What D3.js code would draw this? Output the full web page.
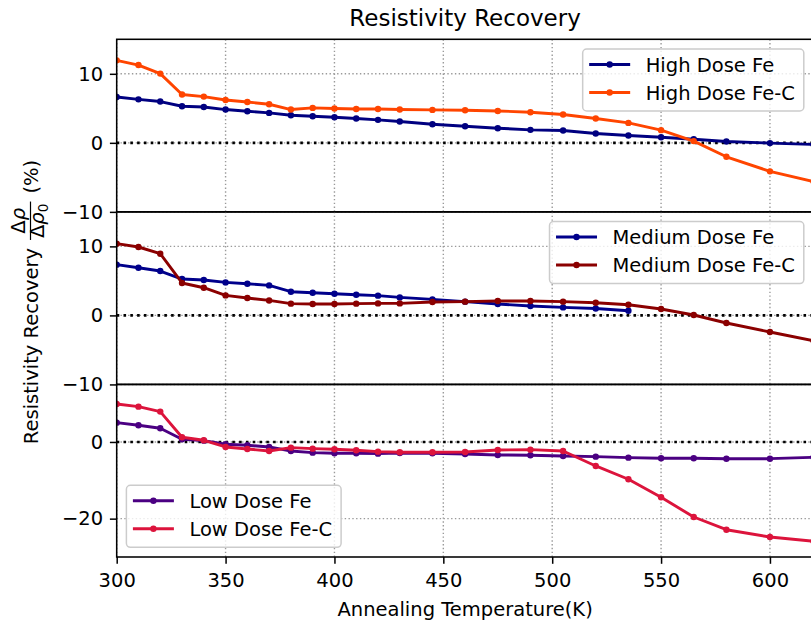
<!DOCTYPE html>
<html>
<head>
<meta charset="utf-8">
<script src="https://cdn.jsdelivr.net/npm/d3@7"></script>
<style>
  body { margin: 0; background: #fff; }
  svg { font-family: "DejaVu Sans", sans-serif; }
</style>
</head>
<body>
<div id="my_dataviz"></div>
<script>
// annealing temperatures (K)
const temps = [300, 310, 320, 330, 340, 350, 360, 370, 380, 390, 400, 410, 420, 430,
               445, 460, 475, 490, 505, 520, 535, 550, 565, 580, 600, 620];

// resistivity recovery (%)
const highFe  = [6.65, 6.3, 5.98, 5.3, 5.2, 4.82, 4.58, 4.34, 4.0, 3.86, 3.71, 3.52, 3.33, 3.09,
                 2.7, 2.41, 2.12, 1.88, 1.79, 1.36, 1.07, 0.82, 0.53, 0.2, -0.04, -0.23];
const highFeC = [11.95, 11.27, 10.03, 7.0, 6.7, 6.21, 5.92, 5.59, 4.82, 5.06, 4.97, 4.91, 4.91, 4.82,
                 4.77, 4.73, 4.62, 4.44, 4.1, 3.52, 2.89, 1.84, 0.25, -2.02, -4.13, -5.6];
const medFe   = [7.35, 6.91, 6.43, 5.27, 5.13, 4.78, 4.59, 4.35, 3.43, 3.29, 3.14, 3.0, 2.86, 2.61,
                 2.32, 1.99, 1.65, 1.36, 1.16, 1.01, 0.68];
const medFeC  = [10.39, 9.91, 8.94, 4.7, 4.01, 2.9, 2.52, 2.17, 1.7, 1.65, 1.65, 1.7, 1.74, 1.74,
                 1.94, 1.99, 2.09, 2.09, 1.99, 1.84, 1.55, 0.93, 0.06, -1.1, -2.41, -3.67];
const lowFe   = [5.04, 4.36, 3.57, 0.7, 0.34, -0.6, -0.86, -1.3, -2.35, -2.79, -2.95, -2.95, -3.05, -2.87,
                 -2.95, -3.13, -3.39, -3.47, -3.65, -3.83, -4.09, -4.25, -4.25, -4.36, -4.36, -3.99];
const lowFeC  = [9.91, 9.21, 7.91, 1.23, 0.44, -1.3, -1.83, -2.35, -1.49, -1.75, -1.9, -2.17, -2.53, -2.69,
                 -2.69, -2.61, -2.09, -2.01, -2.35, -6.26, -9.73, -14.43, -19.57, -22.88, -24.79, -25.91];

const xTicks = [300, 350, 400, 450, 500, 550, 600];
const yTicksTop = [-10, 0, 10];
const yTicksMid = [-10, 0, 10];
const yTicksLow = [-20, 0];

const panels = [
  { domain: [-10, 15], ticks: yTicksTop, legend: "upper right",
    series: [ { name: "High Dose Fe", values: highFe, color: "#000080" },
              { name: "High Dose Fe-C", values: highFeC, color: "#ff4500" } ] },
  { domain: [-10, 15], ticks: yTicksMid, legend: "upper right",
    series: [ { name: "Medium Dose Fe", values: medFe, color: "#00008b" },
              { name: "Medium Dose Fe-C", values: medFeC, color: "#8b0000" } ] },
  { domain: [-30, 15], ticks: yTicksLow, legend: "lower left",
    series: [ { name: "Low Dose Fe", values: lowFe, color: "#4b0082" },
              { name: "Low Dose Fe-C", values: lowFeC, color: "#dc143c" } ] }
];

const W = 811, H = 631;
const margin = {top: 39.3, left: 116.7},
    width = 696.8,
    ph = (557 - margin.top) / 3;
const fs = 19.5;

const svg = d3.select("#my_dataviz")
  .append("svg")
    .attr("width", W)
    .attr("height", H);

const x = d3.scaleLinear().domain([300, 620]).range([0, width]);
const fmt = d3.format("d");

panels.forEach(function(p, i) {
  const g = svg.append("g")
    .attr("transform", `translate(${margin.left}, ${margin.top + i * ph})`);
  const y = d3.scaleLinear().domain(p.domain).range([ph, 0]);

  g.append("defs").append("clipPath")
      .attr("id", "clip" + i)
    .append("rect")
      .attr("width", width)
      .attr("height", ph);

  // grid
  g.append("g").selectAll("line")
    .data(xTicks)
    .join("line")
      .attr("x1", d => x(d)).attr("x2", d => x(d))
      .attr("y1", 0).attr("y2", ph)
      .attr("stroke", "#9a9a9a")
      .attr("stroke-width", 1.4)
      .attr("stroke-dasharray", "1.4,2.4");
  g.append("g").selectAll("line")
    .data(p.ticks)
    .join("line")
      .attr("x1", 0).attr("x2", width)
      .attr("y1", d => y(d)).attr("y2", d => y(d))
      .attr("stroke", "#9a9a9a")
      .attr("stroke-width", 1.4)
      .attr("stroke-dasharray", "1.4,2.4");

  // zero line
  g.append("line")
    .attr("x1", 0).attr("x2", width)
    .attr("y1", y(0)).attr("y2", y(0))
    .attr("stroke", "#000")
    .attr("stroke-width", 2.6)
    .attr("stroke-dasharray", "2.6,4.2");

  const lines = g.append("g").attr("clip-path", `url(#clip${i})`);
  p.series.forEach(function(s) {
    const pts = s.values.map((v, j) => [temps[j], v]);
    lines.append("path")
      .datum(pts)
      .attr("fill", "none")
      .attr("stroke", s.color)
      .attr("stroke-width", 2.9)
      .attr("stroke-linejoin", "round")
      .attr("d", d3.line()
        .x(d => x(d[0]))
        .y(d => y(d[1]))
      );
    lines.append("g").selectAll("circle")
      .data(pts)
      .join("circle")
        .attr("cx", d => x(d[0]))
        .attr("cy", d => y(d[1]))
        .attr("r", 3.2)
        .attr("fill", s.color);
  });

  // y axis
  const yAxis = g.append("g")
    .call(d3.axisLeft(y).tickValues(p.ticks).tickSize(6.8).tickPadding(6.8).tickFormat(fmt));
  yAxis.select(".domain").remove();
  yAxis.attr("font-size", fs).attr("font-family", "DejaVu Sans");
  yAxis.selectAll("line").attr("stroke-width", 1.5);

  // legend
  drawLegend(g, p.series, p.legend);

  // spines
  g.append("rect")
    .attr("width", width)
    .attr("height", ph)
    .attr("fill", "none")
    .attr("stroke", "#000")
    .attr("stroke-width", 1.55);

  if (i === panels.length - 1) {
    const xAxis = g.append("g")
      .attr("transform", `translate(0, ${ph})`)
      .call(d3.axisBottom(x).tickValues(xTicks).tickSize(6.8).tickPadding(9).tickFormat(fmt));
    xAxis.select(".domain").remove();
    xAxis.attr("font-size", fs).attr("font-family", "DejaVu Sans");
    xAxis.selectAll("line").attr("stroke-width", 1.5);
  }
});

function drawLegend(g, items, corner) {
  const lg = g.append("g");
  const box = lg.append("rect")
    .attr("rx", 4).attr("ry", 4)
    .attr("fill", "#fff")
    .attr("fill-opacity", 0.8)
    .attr("stroke", "#cccccc")
    .attr("stroke-width", 1.5);
  const rows = [15.5, 43.5];
  let maxW = 0;
  const texts = items.map(function(s, k) {
    const t = lg.append("text")
      .attr("x", 63)
      .attr("y", rows[k])
      .attr("dy", "0.36em")
      .attr("font-size", fs)
      .text(s.name);
    maxW = Math.max(maxW, t.node().getComputedTextLength());
    lg.append("line")
      .attr("x1", 6.5).attr("x2", 47.5)
      .attr("y1", rows[k]).attr("y2", rows[k])
      .attr("stroke", s.color)
      .attr("stroke-width", 2.9);
    lg.append("circle")
      .attr("cx", 27).attr("cy", rows[k])
      .attr("r", 3.2)
      .attr("fill", s.color);
    return t;
  });
  const bw = 63 + maxW + 9, bh = 62;
  box.attr("width", bw).attr("height", bh);
  let bx, by;
  if (corner === "upper right") { bx = width - 9.7 - bw; by = 9.7; }
  else { bx = 9.7; by = ph - 9.7 - bh; }
  lg.attr("transform", `translate(${bx}, ${by})`);
}

// title and x label
svg.append("text")
  .attr("x", margin.left + width / 2)
  .attr("y", 26)
  .attr("text-anchor", "middle")
  .attr("font-size", 23)
  .text("Resistivity Recovery");

svg.append("text")
  .attr("x", margin.left + width / 2)
  .attr("y", 616)
  .attr("text-anchor", "middle")
  .attr("font-size", fs)
  .text("Annealing Temperature(K)");

// y label with the fraction
const yl = svg.append("g")
  .attr("transform", "translate(38, 302) rotate(-90)")
  .attr("font-size", fs);

const t1 = yl.append("text").text("Resistivity Recovery");
const w1 = t1.node().getComputedTextLength();

function mathText(yy, sub) {
  const t = yl.append("text").attr("y", yy);
  t.append("tspan").text("Δ");
  t.append("tspan").attr("font-style", "italic").text("ρ");
  if (sub) t.append("tspan").attr("font-size", fs * 0.7).attr("dy", 4).text("0");
  return t;
}
const num = mathText(-13, false);
const den = mathText(6, true);
const wn = num.node().getComputedTextLength();
const wd = den.node().getComputedTextLength();
const fw = Math.max(wn, wd) + 4;
const t2 = yl.append("text").text("(%)");
const w2 = t2.node().getComputedTextLength();
const gap = 8;
const total = w1 + gap + fw + gap + w2;
let pos = -total / 2;
t1.attr("x", pos);
pos += w1 + gap;
yl.append("line")
  .attr("x1", pos).attr("x2", pos + fw)
  .attr("y1", -7.5).attr("y2", -7.5)
  .attr("stroke", "#000")
  .attr("stroke-width", 1.2);
num.attr("x", pos + (fw - wn) / 2);
den.attr("x", pos + (fw - wd) / 2);
pos += fw + gap;
t2.attr("x", pos);
</script>
</body>
</html>
